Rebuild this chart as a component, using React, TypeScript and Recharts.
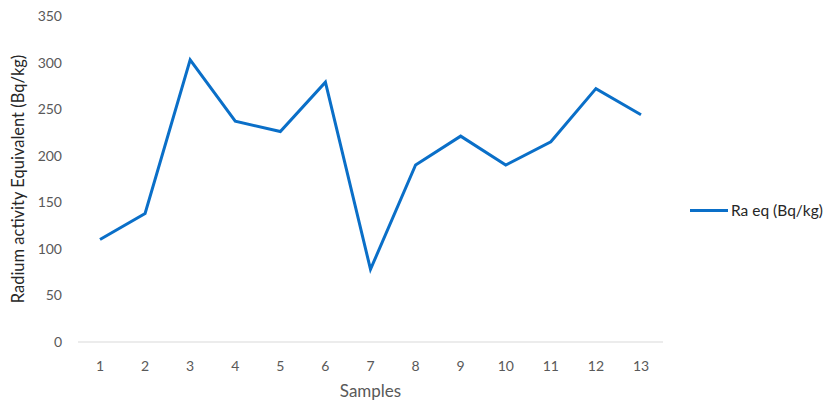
import { LineChart, Line, XAxis, YAxis, Label } from "recharts";

const BLUE = "#0a6fc8";
const AXIS_TEXT = "#595959";
const FONT = "Lato, 'Open Sans', sans-serif";

const SAMPLES = ["1", "2", "3", "4", "5", "6", "7", "8", "9", "10", "11", "12", "13"];
const RA_EQ = [110, 138, 303, 237, 226, 279, 78, 190, 221, 190, 215, 272, 244];
const Y_TICKS = [0, 50, 100, 150, 200, 250, 300, 350];

const data = SAMPLES.map((s, i) => ({ sample: s, raEq: RA_EQ[i] }));

export default function App() {
  return (
    <div style={{ position: "absolute", left: 0, top: 0, width: 823, height: 403, background: "#fff", fontFamily: FONT }}>
      <LineChart
        width={823}
        height={403}
        data={data}
        margin={{ top: 16, right: 160, left: 0, bottom: 0 }}
      >
        <XAxis
          dataKey="sample"
          height={61}
          padding={{ left: 22, right: 22 }}
          tickLine={false}
          tickMargin={13}
          axisLine={{ stroke: "#d9d9d9", strokeWidth: 1 }}
          tick={{ fill: AXIS_TEXT, fontSize: 14, fontFamily: FONT }}
        >
          <Label
            value="Samples"
            position="insideBottom"
            offset={6}
            style={{ fill: AXIS_TEXT, fontSize: 17, fontFamily: FONT }}
          />
        </XAxis>
        <YAxis
          width={78}
          domain={[0, 350]}
          ticks={Y_TICKS}
          axisLine={false}
          tickLine={false}
          tickMargin={10}
          tick={{ fill: AXIS_TEXT, fontSize: 14, fontFamily: FONT }}
        >
          <Label
            value="Radium activity Equivalent (Bq/kg)"
            angle={-90}
            position="insideLeft"
            offset={18}
            style={{ textAnchor: "middle", fill: "#262626", fontSize: 16.5, fontFamily: FONT }}
          />
        </YAxis>
        <Line
          type="linear"
          dataKey="raEq"
          name="Ra eq (Bq/kg)"
          stroke={BLUE}
          strokeWidth={3}
          dot={false}
          isAnimationActive={false}
        />
      </LineChart>
      <div
        style={{
          position: "absolute",
          left: 690,
          top: 201,
          display: "flex",
          alignItems: "center",
          fontSize: 15.5,
          color: "#262626",
          fontFamily: FONT,
          whiteSpace: "nowrap",
        }}
      >
        <span style={{ display: "inline-block", width: 38, height: 3, background: BLUE, marginRight: 3 }} />
        Ra eq (Bq/kg)
      </div>
    </div>
  );
}
